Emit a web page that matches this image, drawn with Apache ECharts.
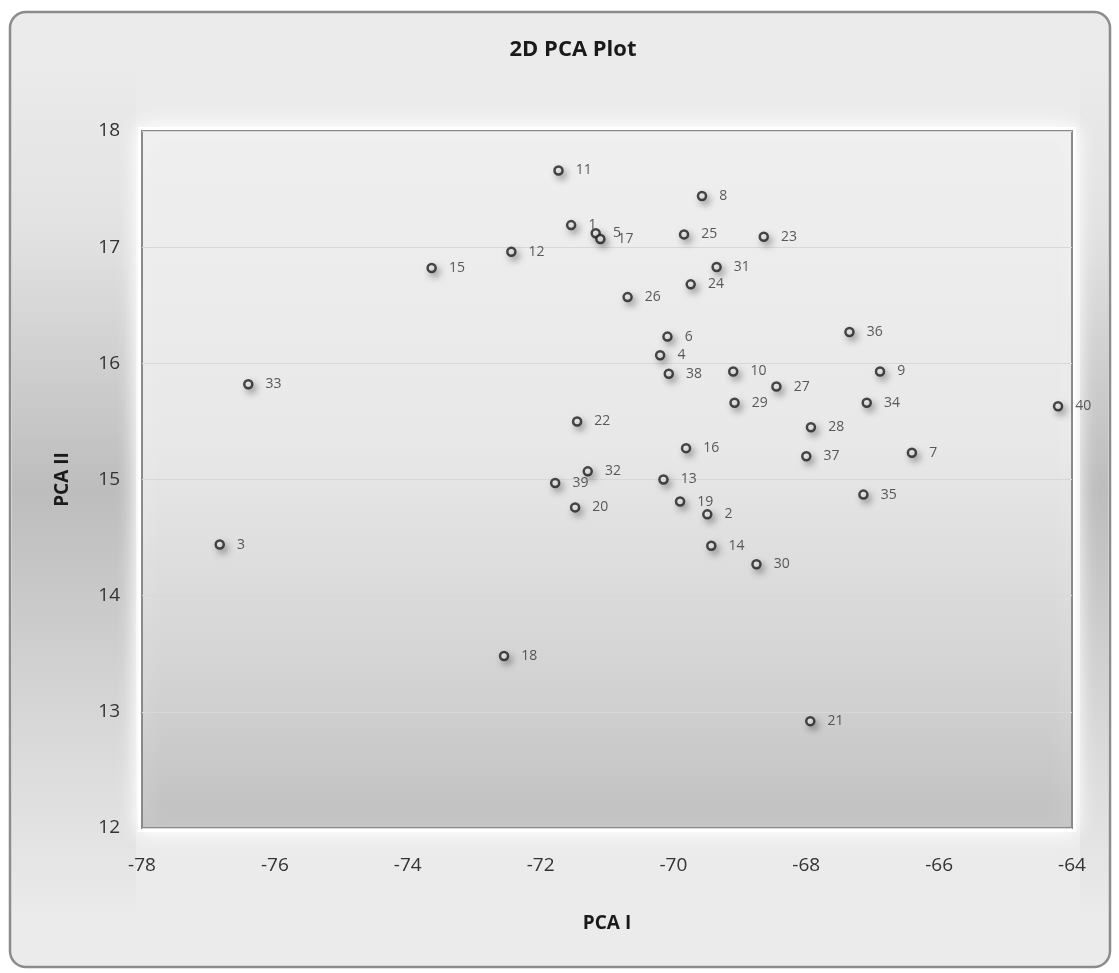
<!DOCTYPE html>
<html>
<head>
<meta charset="utf-8">
<style>
html,body{margin:0;padding:0;background:#ffffff;}
#chart{width:1119px;height:973px;}
</style>
<script src="https://cdn.jsdelivr.net/npm/echarts@6/dist/echarts.min.js"></script>
</head>
<body>
<div id="chart"></div>
<script>
const pointLabels = ['1','2','3','4','5','6','7','8','9','10','11','12','13','14','15','16','17','18','19','20','21','22','23','24','25','26','27','28','29','30','31','32','33','34','35','36','37','38','39','40'];
const pcaI = [-71.54,-69.49,-76.83,-70.20,-71.17,-70.09,-66.41,-69.57,-66.89,-69.10,-71.73,-72.44,-70.15,-69.43,-73.64,-69.81,-71.10,-72.55,-69.90,-71.48,-67.94,-71.45,-68.64,-69.74,-69.84,-70.69,-68.45,-67.93,-69.08,-68.75,-69.35,-71.29,-76.40,-67.09,-67.14,-67.35,-68.00,-70.07,-71.78,-64.21];
const pcaII = [17.19,14.70,14.44,16.07,17.12,16.23,15.23,17.44,15.93,15.93,17.66,16.96,15.00,14.43,16.82,15.27,17.07,13.48,14.81,14.76,12.92,15.50,17.09,16.68,17.11,16.57,15.80,15.45,15.66,14.27,16.83,15.07,15.82,15.66,14.87,16.27,15.20,15.91,14.97,15.63];
const xTicks = {min:-78, max:-64, interval:2};
const yTicks = {min:12, max:18, interval:1};

const data = pointLabels.map((l,i)=>({value:[pcaI[i], pcaII[i]], name:l}));
const chart = echarts.init(document.getElementById('chart'), null, {renderer:'canvas'});
const font = '"Open Sans", "Liberation Sans", sans-serif';
const sideGrad = {type:'linear', x:0, y:0, x2:0, y2:1, colorStops:[
  {offset:0, color:'#ebebeb'},{offset:0.2, color:'#e2e2e2'},{offset:0.5, color:'#bdbdbd'},{offset:0.8, color:'#dadada'},{offset:1, color:'#ebebeb'}]};
chart.setOption({
  animation:false,
  backgroundColor:'#ffffff',
  graphic:[
    {type:'rect', z:-20, shape:{x:10,y:12,width:1100,height:955,r:16}, style:{fill:'#ebebeb', stroke:'#8c8c8c', lineWidth:2.5}},
    {type:'rect', z:-19, shape:{x:12,y:60,width:124,height:860}, style:{fill:sideGrad}},
    {type:'rect', z:-19, shape:{x:1080,y:60,width:28,height:860}, style:{fill:sideGrad}},
    {type:'rect', z:-18, shape:{x:138,y:127,width:938,height:705}, style:{fill:'#ffffff', shadowColor:'rgba(255,255,255,1)', shadowBlur:18}}
  ],
  title:{text:'2D PCA Plot', left:568, top:34, textAlign:'center',
    textStyle:{fontFamily:font, fontSize:22, fontWeight:'bold', color:'#1a1a1a'}},
  grid:{left:142, top:131, width:930, height:697, show:true,
    backgroundColor:{type:'linear', x:0, y:0, x2:0, y2:1, colorStops:[
      {offset:0,color:'#efefef'},{offset:0.45,color:'#e8e8e8'},{offset:0.8,color:'#d2d2d2'},{offset:1,color:'#c0c0c0'}]},
    borderColor:'#8a8a8a', borderWidth:2,
    shadowColor:'rgba(255,255,255,1)', shadowBlur:22},
  xAxis:{type:'value', min:xTicks.min, max:xTicks.max, interval:xTicks.interval,
    name:'PCA I', nameLocation:'middle', nameGap:86,
    nameTextStyle:{fontFamily:font, fontSize:19, fontWeight:'bold', color:'#1a1a1a'},
    axisLine:{show:false}, axisTick:{show:false}, splitLine:{show:false},
    axisLabel:{fontFamily:font, fontSize:19, color:'#333', margin:28}},
  yAxis:{type:'value', min:yTicks.min, max:yTicks.max, interval:yTicks.interval,
    name:'PCA II', nameLocation:'middle', nameGap:70,
    nameTextStyle:{fontFamily:font, fontSize:19, fontWeight:'bold', color:'#1a1a1a'},
    axisLine:{show:false}, axisTick:{show:false},
    splitLine:{show:true, lineStyle:{color:'#d8d8d8', width:1}},
    axisLabel:{fontFamily:font, fontSize:19, color:'#333', margin:22}},
  series:[{
    type:'scatter', data:data, symbol:'circle', symbolSize:8,
    itemStyle:{color:'#f2f2f2', borderColor:'#1c1c1c', borderWidth:2.5,
      shadowColor:'rgba(0,0,0,0.35)', shadowBlur:7, shadowOffsetX:3, shadowOffsetY:4},
    label:{show:true, position:'right', distance:12, formatter:'{b}',
      fontFamily:font, fontSize:14, color:'#333'}
  }]
});
</script>
</body>
</html>
